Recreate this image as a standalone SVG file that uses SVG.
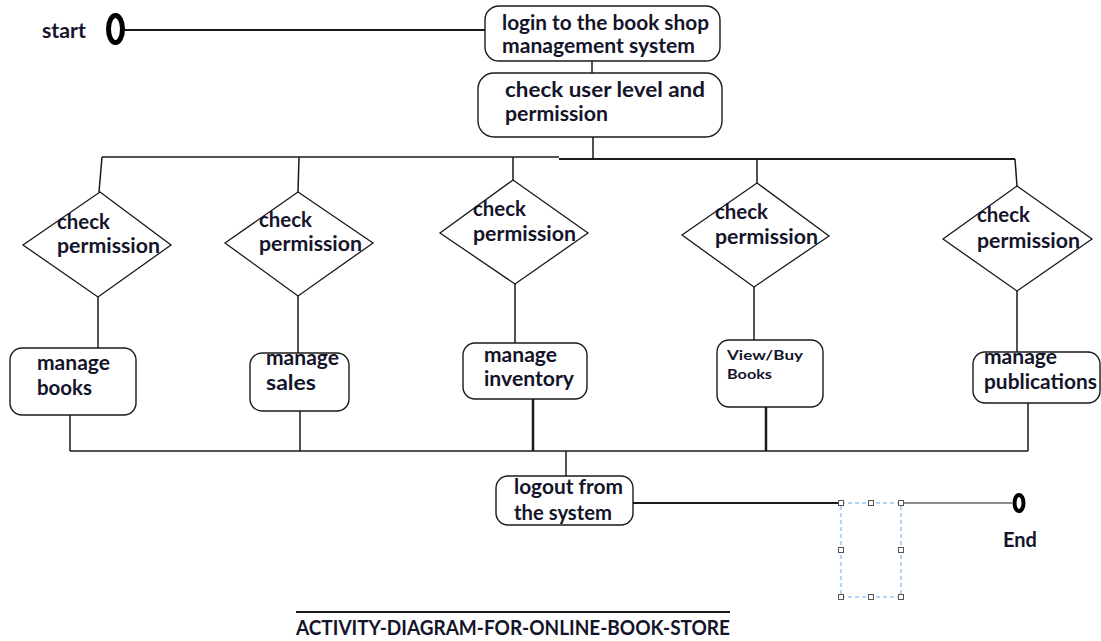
<svg xmlns="http://www.w3.org/2000/svg" width="1101" height="641" viewBox="0 0 1101 641">
<style>
  text { font-family: "Lato", "Liberation Sans", sans-serif; font-weight: bold; font-size: 20px; fill: #14142b; }
  .sm { font-size: 14px; }
  .box { fill: #ffffff; stroke: #1a1a1a; stroke-width: 1.4; }
  .dia { fill: #ffffff; stroke: #1a1a1a; stroke-width: 1.3; }
  .ln { stroke: #1a1a1a; stroke-width: 1.5; fill: none; }
  .thick { stroke: #1a1a1a; stroke-width: 2.5; fill: none; }
  .handle { fill: #ffffff; stroke: #555555; stroke-width: 1; }
</style>
<rect width="1101" height="641" fill="#ffffff"/>

<g id="connectors">
  <line class="ln" x1="124" y1="30" x2="485" y2="30" style="stroke-width:2"/>
  <line class="ln" x1="592" y1="61" x2="592" y2="73"/>
  <line class="ln" x1="593" y1="137" x2="593" y2="159"/>
  <line class="ln" x1="102" y1="157" x2="559" y2="157"/>
  <line class="ln" x1="559" y1="159" x2="1015" y2="159" style="stroke-width:2"/>
  <line class="ln" x1="102" y1="157" x2="99" y2="192"/>
  <line class="ln" x1="299" y1="157" x2="298" y2="192"/>
  <line class="ln" x1="513" y1="157" x2="513" y2="180"/>
  <line class="ln" x1="757" y1="159" x2="757" y2="183"/>
  <line class="ln" x1="1015" y1="159" x2="1017" y2="186"/>
  <line class="ln" x1="98" y1="297" x2="98" y2="348"/>
  <line class="ln" x1="298" y1="296" x2="298" y2="353"/>
  <line class="ln" x1="515" y1="284" x2="515" y2="343"/>
  <line class="ln" x1="754" y1="287" x2="754" y2="340"/>
  <line class="ln" x1="1017" y1="291" x2="1017" y2="352"/>
  <line class="ln" x1="70" y1="415" x2="70" y2="451"/>
  <line class="ln" x1="300" y1="411" x2="300" y2="451"/>
  <line class="thick" x1="533" y1="399" x2="533" y2="451"/>
  <line class="thick" x1="766" y1="407" x2="766" y2="451"/>
  <line class="ln" x1="1028" y1="403" x2="1028" y2="451"/>
  <line class="ln" x1="70" y1="451" x2="1028" y2="451"/>
  <line class="ln" x1="566" y1="451" x2="566" y2="476"/>
  <line class="ln" x1="633" y1="503" x2="841" y2="503" style="stroke-width:2"/>
  <line class="ln" x1="901" y1="503" x2="1012" y2="503" style="stroke-width:1.2"/>
</g>

<g id="start">
  <text x="42" y="38" textLength="44" lengthAdjust="spacingAndGlyphs">start</text>
  <ellipse cx="115.5" cy="29" rx="7" ry="13.5" fill="none" stroke="#000" stroke-width="5"/>
</g>

<g id="login">
  <rect class="box" x="485" y="6" width="235" height="55" rx="14"/>
  <text x="502" y="30" textLength="207" lengthAdjust="spacingAndGlyphs">login to the book shop</text>
  <text x="502" y="53" textLength="193" lengthAdjust="spacingAndGlyphs">management system</text>
</g>

<g id="check-user">
  <rect class="box" x="478" y="73" width="244" height="64" rx="16"/>
  <text x="505" y="97" textLength="200" lengthAdjust="spacingAndGlyphs">check user level and</text>
  <text x="505" y="121" textLength="103" lengthAdjust="spacingAndGlyphs">permission</text>
</g>

<g id="decision1">
  <polygon class="dia" points="100,192 171,245 98,297 23,245"/>
  <text x="57" y="229" textLength="53" lengthAdjust="spacingAndGlyphs">check</text>
  <text x="57" y="253" textLength="103" lengthAdjust="spacingAndGlyphs">permission</text>
</g>

<g id="decision2">
  <polygon class="dia" points="298,192 373,243 298,296 225,243"/>
  <text x="259" y="227" textLength="53" lengthAdjust="spacingAndGlyphs">check</text>
  <text x="259" y="251" textLength="103" lengthAdjust="spacingAndGlyphs">permission</text>
</g>

<g id="decision3">
  <polygon class="dia" points="513,180 588,233 515,284 440,233"/>
  <text x="473" y="216" textLength="53" lengthAdjust="spacingAndGlyphs">check</text>
  <text x="473" y="241" textLength="103" lengthAdjust="spacingAndGlyphs">permission</text>
</g>

<g id="decision4">
  <polygon class="dia" points="757,183 829,236 754,287 682,235"/>
  <text x="715" y="219" textLength="53" lengthAdjust="spacingAndGlyphs">check</text>
  <text x="715" y="244" textLength="103" lengthAdjust="spacingAndGlyphs">permission</text>
</g>

<g id="decision5">
  <polygon class="dia" points="1017,186 1092,239 1017,291 943,239"/>
  <text x="977" y="222" textLength="53" lengthAdjust="spacingAndGlyphs">check</text>
  <text x="977" y="248" textLength="103" lengthAdjust="spacingAndGlyphs">permission</text>
</g>

<g id="manage-books">
  <rect class="box" x="10" y="348" width="126" height="67" rx="12"/>
  <text x="37" y="370" textLength="73" lengthAdjust="spacingAndGlyphs">manage</text>
  <text x="37" y="395" textLength="55" lengthAdjust="spacingAndGlyphs">books</text>
</g>

<g id="manage-sales">
  <rect class="box" x="250" y="353" width="99" height="58" rx="12"/>
  <text x="266" y="365" textLength="73" lengthAdjust="spacingAndGlyphs">manage</text>
  <text x="266" y="390" textLength="50" lengthAdjust="spacingAndGlyphs">sales</text>
</g>

<g id="manage-inventory">
  <rect class="box" x="463" y="343" width="124" height="56" rx="12"/>
  <text x="484" y="362" textLength="73" lengthAdjust="spacingAndGlyphs">manage</text>
  <text x="484" y="386" textLength="90" lengthAdjust="spacingAndGlyphs">inventory</text>
</g>

<g id="view-buy-books">
  <rect class="box" x="717" y="340" width="106" height="67" rx="12"/>
  <text class="sm" x="727" y="360" textLength="76" lengthAdjust="spacingAndGlyphs">View/Buy</text>
  <text class="sm" x="727" y="379" textLength="45" lengthAdjust="spacingAndGlyphs">Books</text>
</g>

<g id="manage-publications">
  <rect class="box" x="973" y="352" width="127" height="51" rx="12"/>
  <text x="984" y="364" textLength="73" lengthAdjust="spacingAndGlyphs">manage</text>
  <text x="984" y="389" textLength="113" lengthAdjust="spacingAndGlyphs">publications</text>
</g>

<g id="logout">
  <rect class="box" x="496" y="476" width="137" height="49" rx="12"/>
  <text x="514" y="494" textLength="109" lengthAdjust="spacingAndGlyphs">logout from</text>
  <text x="514" y="520" textLength="98" lengthAdjust="spacingAndGlyphs">the system</text>
</g>

<g id="selection">
  <rect x="841" y="503" width="60" height="94" fill="none" stroke="#6aaae8" stroke-width="1" stroke-dasharray="4 3"/>
  <rect class="handle" x="838.5" y="500.5" width="5" height="5"/>
  <rect class="handle" x="868.5" y="500.5" width="5" height="5"/>
  <rect class="handle" x="898.5" y="500.5" width="5" height="5"/>
  <rect class="handle" x="838.5" y="547.5" width="5" height="5"/>
  <rect class="handle" x="898.5" y="547.5" width="5" height="5"/>
  <rect class="handle" x="838.5" y="594.5" width="5" height="5"/>
  <rect class="handle" x="868.5" y="594.5" width="5" height="5"/>
  <rect class="handle" x="898.5" y="594.5" width="5" height="5"/>
</g>

<g id="end">
  <ellipse cx="1019" cy="503" rx="4.5" ry="8" fill="none" stroke="#000" stroke-width="4"/>
  <text x="1003" y="547" textLength="34" lengthAdjust="spacingAndGlyphs">End</text>
</g>

<g id="title">
  <line x1="296" y1="612" x2="730" y2="612" stroke="#1a1a1a" stroke-width="2"/>
  <text x="296" y="635" font-size="18" textLength="434" lengthAdjust="spacingAndGlyphs">ACTIVITY-DIAGRAM-FOR-ONLINE-BOOK-STORE</text>
</g>
</svg>
